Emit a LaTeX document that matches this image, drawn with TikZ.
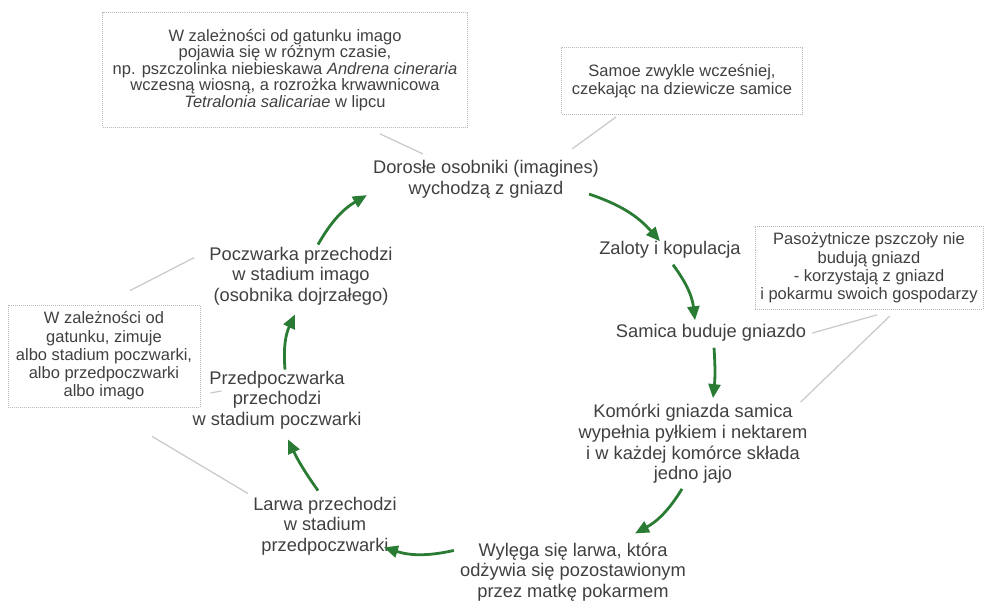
\documentclass[tikz,border=0pt]{standalone}
\usepackage{fontspec}
\setmainfont{Liberation Sans}
\usetikzlibrary{arrows.meta}
\definecolor{beegreen}{RGB}{42,124,52}
\definecolor{txtgray}{RGB}{64,64,64}
\definecolor{linegray}{RGB}{200,200,200}
\definecolor{dotgray}{RGB}{185,185,185}

\begin{document}
\begin{tikzpicture}[
  x=1pt, y=-1pt,
  font=\fontsize{18.3}{20.7}\selectfont, text=txtgray,
  stage/.style={align=center, inner sep=0pt},
  note/.style={draw=dotgray, dash pattern=on 1pt off 1pt, line width=0.8pt,
               align=center, inner sep=0pt, font=\fontsize{16.5}{18.3}\selectfont},
  cyc/.style={-{Triangle[length=14pt,width=12pt]}, line width=2.8pt, beegreen, bend left=15},
  link/.style={linegray, line width=1.2pt}
]
  \useasboundingbox (0,0) rectangle (985,609);

  % notes
  \node[note, minimum width=365pt, minimum height=115pt,
        font=\fontsize{16.5}{16.6}\selectfont] (timing) at (285,70)
    {W zależności od gatunku imago\\pojawia się w różnym czasie,\\np. pszczolinka niebieskawa \textit{Andrena cineraria}\\wczesną wiosną, a rozrożka krwawnicowa\\\textit{Tetralonia salicariae} w lipcu};
  \node[note, minimum width=241pt, minimum height=67pt] (male) at (682,81)
    {Samoe zwykle wcześniej,\\czekając na dziewicze samice};
  \node[note, minimum width=228pt, minimum height=83pt] (parasite) at (869,268)
    {Pasożytnicze pszczoły nie\\budują gniazd\\- korzystają z gniazd\\i pokarmu swoich gospodarzy};
  \node[note, minimum width=192pt, minimum height=102pt] (winter) at (104,356)
    {W zależności od\\gatunku, zimuje\\albo stadium poczwarki,\\albo przedpoczwarki\\albo imago};

  % stages
  \node[stage] (adult) at (486,179) {Dorosłe osobniki (imagines)\\wychodzą z gniazd};
  \node[stage] (court) at (670,250) {Zaloty i kopulacja};
  \node[stage] (nest)  at (711,333) {Samica buduje gniazdo};
  \node[stage] (cells) at (693,444) {Komórki gniazda samica\\wypełnia pyłkiem i nektarem\\i w każdej komórce składa\\jedno jajo};
  \node[stage] (hatch) at (573,572) {Wylęga się larwa, która\\odżywia się pozostawionym\\przez matkę pokarmem};
  \node[stage] (larva) at (325,526) {Larwa przechodzi\\w stadium\\przedpoczwarki};
  \node[stage] (prepupa) at (277,400) {Przedpoczwarka\\przechodzi\\w stadium poczwarki};
  \node[stage] (pupa)  at (301,276) {Poczwarka przechodzi\\w stadium imago\\(osobnika dojrzałego)};

  % life cycle
  \draw[cyc] ([shift={(17,-2)}]pupa.north) to ([shift={(-6,-3)}]adult.south west);
  \draw[cyc] ([shift={(-10,-4)}]adult.south east) to ([shift={(-10,0)}]court.north);
  \draw[cyc] ([shift={(3,6)}]court.south) to ([shift={(-16,-4)}]nest.north);
  \draw[cyc, bend left=5] ([shift={(3,6)}]nest.south) to ([shift={(20,-6)}]cells.north);
  \draw[cyc] ([shift={(-11,5)}]cells.south) to ([shift={(62,-9)}]hatch.north);
  \draw[cyc] ([shift={(-6,8)}]hatch.north west) to ([shift={(-13,-8)}]larva.south east);
  \draw[cyc, bend left=5] ([shift={(-7,-6)}]larva.north) to ([shift={(11,10)}]prepupa.south);
  \draw[cyc] ([shift={(8,-1)}]prepupa.north) to ([shift={(-6,9)}]pupa.south);

  % note links
  \draw[link] ([shift={(95,6)}]timing.south) -- ([shift={(50,-6)}]adult.north west);
  \draw[link] ([shift={(55,2)}]male.south west) -- ([shift={(-27,-11)}]adult.north east);
  \draw[link] ([shift={(-15,11)}]pupa.north west) -- ([shift={(26,-14)}]winter.north);
  \draw[link] ([shift={(10,37)}]winter.east) -- ([shift={(29,-9)}]prepupa.west);
  \draw[link] ([shift={(-5,-3)}]larva.north west) -- ([shift={(48,29)}]winter.south);
  \draw[link] ([shift={(6,0)}]nest.east) -- ([shift={(8,5)}]parasite.south);
  \draw[link] ([shift={(-7,-2)}]cells.north east) -- ([shift={(21,6)}]parasite.south);
\end{tikzpicture}
\end{document}
